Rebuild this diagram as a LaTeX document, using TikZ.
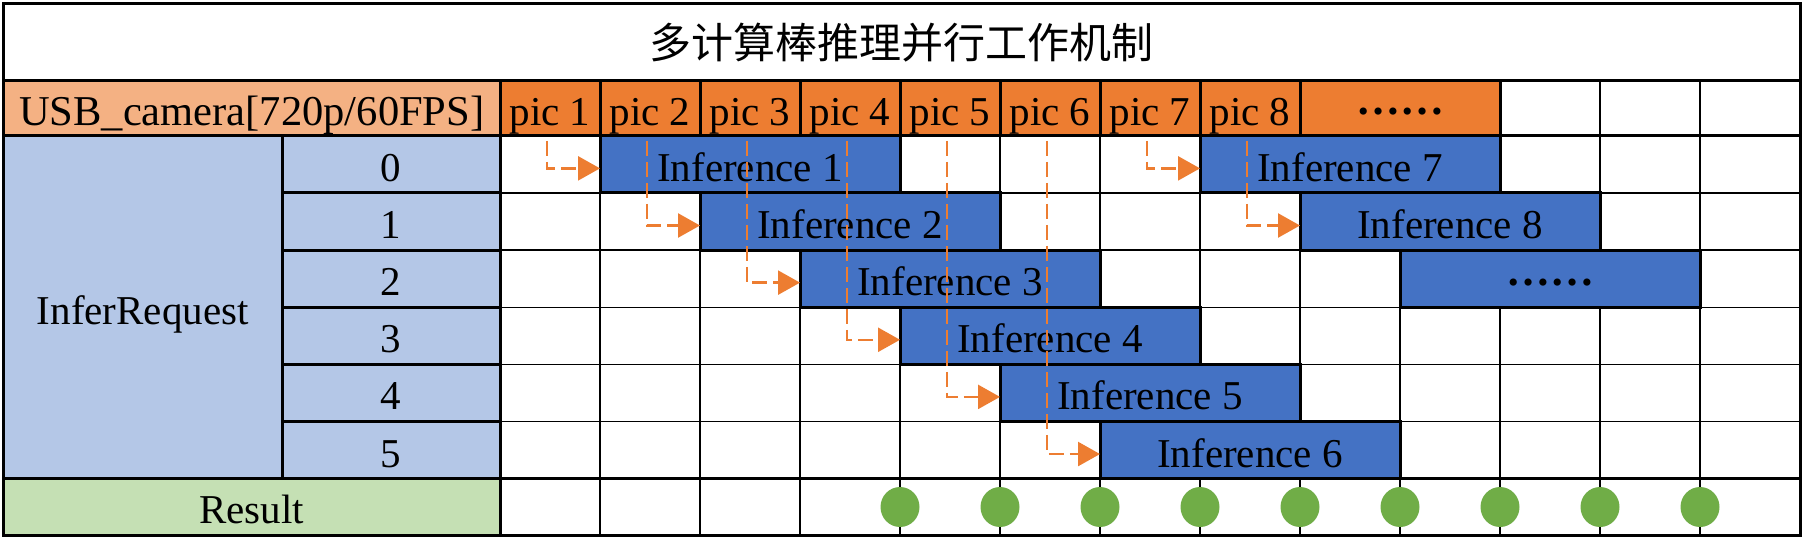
\documentclass[tikz,border=0pt]{standalone}
\usepackage{fontspec}
\setmainfont{Liberation Serif}
\newfontfamily\cjk{Noto Sans CJK SC}
\usetikzlibrary{arrows.meta,shapes.geometric}
\definecolor{camL}{HTML}{F4B183}
\definecolor{camD}{HTML}{ED7D31}
\definecolor{reqL}{HTML}{B4C7E7}
\definecolor{barB}{HTML}{4472C4}
\definecolor{resL}{HTML}{C5E0B4}
\definecolor{resD}{HTML}{70AD47}
\newcommand{\moredots}{\raisebox{10.5pt}{\fontsize{44}{48}\selectfont\bfseries ……}}
\begin{document}
\begin{tikzpicture}[x=1pt,y=-1pt,
  font=\fontsize{41}{48}\selectfont,
  thickln/.style={line width=3pt},
  thinln/.style={line width=1.3pt},
  cellbox/.style={draw=black, line width=3pt, inner sep=0pt, outer sep=0pt,
     anchor=center, text height=40pt, text depth=6pt},
  piccell/.style={cellbox, fill=camD, minimum width=100pt, minimum height=55.3pt},
  numcell/.style={cellbox, fill=reqL, minimum width=218pt, minimum height=57.13pt},
  bar/.style={cellbox, fill=barB, minimum width=300pt, minimum height=57.13pt},
  flow/.style={draw=camD, line width=2.5pt, dash pattern=on 15pt off 6pt,
     -{Triangle[length=22pt,width=24pt]}},
  resdot/.style={ellipse, fill=resD, minimum width=39pt, minimum height=40pt, inner sep=0pt}]
\def\Ra{135.8}\def\Rb{192.93}\def\Rc{250.06}\def\Rd{307.2}\def\Re{364.33}\def\Rf{421.46}\def\Rg{478.6}
\useasboundingbox (0,0) rectangle (1804,538);
\fill[white] (0,0) rectangle (1804,538);
% thin grid
\foreach \x in {600,700,...,1700} \draw[thinln] (\x,80.5) -- (\x,535);
\foreach \y in {\Rb,\Rc,\Rd,\Re,\Rf} \draw[thinln] (500,\y) -- (1800.5,\y);
% thick structure lines
\draw[thickln] (3.5,80.5) -- (1800.5,80.5);
\draw[thickln] (3.5,\Ra) -- (1800.5,\Ra);
\draw[thickln] (3.5,\Rg) -- (1800.5,\Rg);
\draw[thickln] (500,80.5) -- (500,535);
% title
\node[inner sep=0pt] (title) at (901.5,43) {\cjk\fontsize{42}{48}\selectfont 多计算棒推理并行工作机制};
% header
\node[cellbox, fill=camL, minimum width=496.5pt, minimum height=55.3pt] (cam) at (251.75,108.15) {\fontsize{42.5}{48}\selectfont USB\_camera[720p/60FPS]};
\foreach \k in {1,...,8}
  \node[piccell] (pic\k) at ({450+100*\k},108.15) {pic \k};
\node[piccell, minimum width=200pt] (picmore) at (1400,108.15) {\moredots};
% InferRequest block
\node[cellbox, fill=reqL, minimum width=278.5pt, minimum height=342.8pt] (req) at (142.75,307.2) {InferRequest};
\node[numcell] (n0) at (391,164.37) {0};
\node[numcell] (n1) at (391,221.5) {1};
\node[numcell] (n2) at (391,278.63) {2};
\node[numcell] (n3) at (391,335.77) {3};
\node[numcell] (n4) at (391,392.9) {4};
\node[numcell] (n5) at (391,450.03) {5};
% result
\node[cellbox, fill=resL, minimum width=496.5pt, minimum height=56.4pt] (res) at (251.75,506.8) {Result};
% outer border
\draw[thickln] (3.5,3.5) rectangle (1800.5,535);
% inference bars
\node[bar] (inf1) at (750,164.37) {Inference 1};
\node[bar] (inf2) at (850,221.5) {Inference 2};
\node[bar] (inf3) at (950,278.63) {Inference 3};
\node[bar] (inf4) at (1050,335.77) {Inference 4};
\node[bar] (inf5) at (1150,392.9) {Inference 5};
\node[bar] (inf6) at (1250,450.03) {Inference 6};
\node[bar] (inf7) at (1350,164.37) {Inference 7};
\node[bar] (inf8) at (1450,221.5) {Inference 8};
\node[bar] (infmore) at (1550,278.63) {\moredots};
% dashed flows
\foreach \k in {1,...,8}
  \draw[flow] ([xshift=-3pt,yshift=-5pt]pic\k.south) |- ([yshift=-4pt]inf\k.west);
% results
\foreach \k in {1,...,9}
  \node[resdot] (r\k) at ({800+100*\k},507) {};
\end{tikzpicture}
\end{document}
